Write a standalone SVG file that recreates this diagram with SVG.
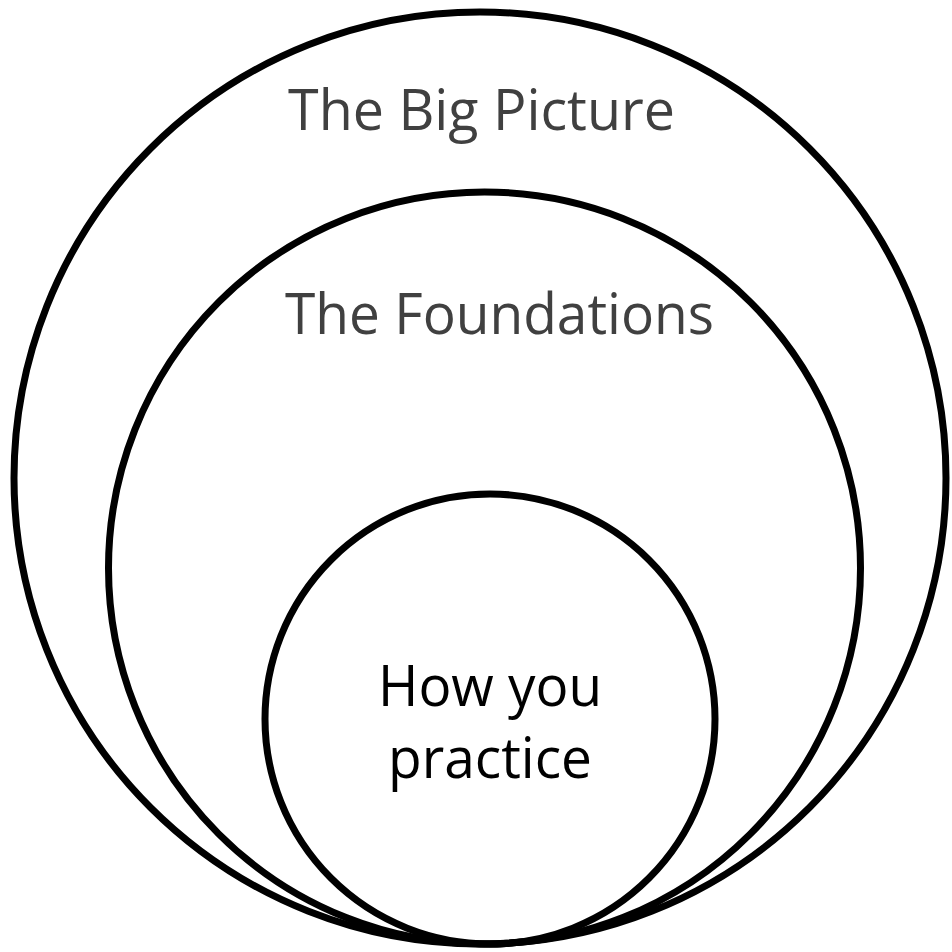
<svg xmlns="http://www.w3.org/2000/svg" width="952" height="952" viewBox="0 0 952 952">
<style>
.ring{fill:none;stroke:#000;stroke-width:7}
.lbl{font-family:"Open Sans","Liberation Sans",sans-serif;font-size:56px;text-anchor:middle}
.grey{fill:#404040}
.blk{fill:#000}
</style>
<rect width="952" height="952" fill="#fff"/>
<g id="big-picture">
<circle class="ring" cx="480" cy="478" r="466"/>
<text class="lbl grey" x="481.5" y="130" textLength="387" lengthAdjust="spacingAndGlyphs">The Big Picture</text>
</g>
<g id="foundations">
<circle class="ring" cx="484.5" cy="568" r="376"/>
<text class="lbl grey" x="499.5" y="334" textLength="429" lengthAdjust="spacingAndGlyphs">The Foundations</text>
</g>
<g id="practice">
<circle class="ring" cx="490" cy="719" r="225"/>
<text class="lbl blk" x="490" y="706" textLength="224" lengthAdjust="spacingAndGlyphs">How you</text>
<text class="lbl blk" x="490" y="778" textLength="204" lengthAdjust="spacingAndGlyphs">practice</text>
</g>
<g id="connectors"/>
</svg>
